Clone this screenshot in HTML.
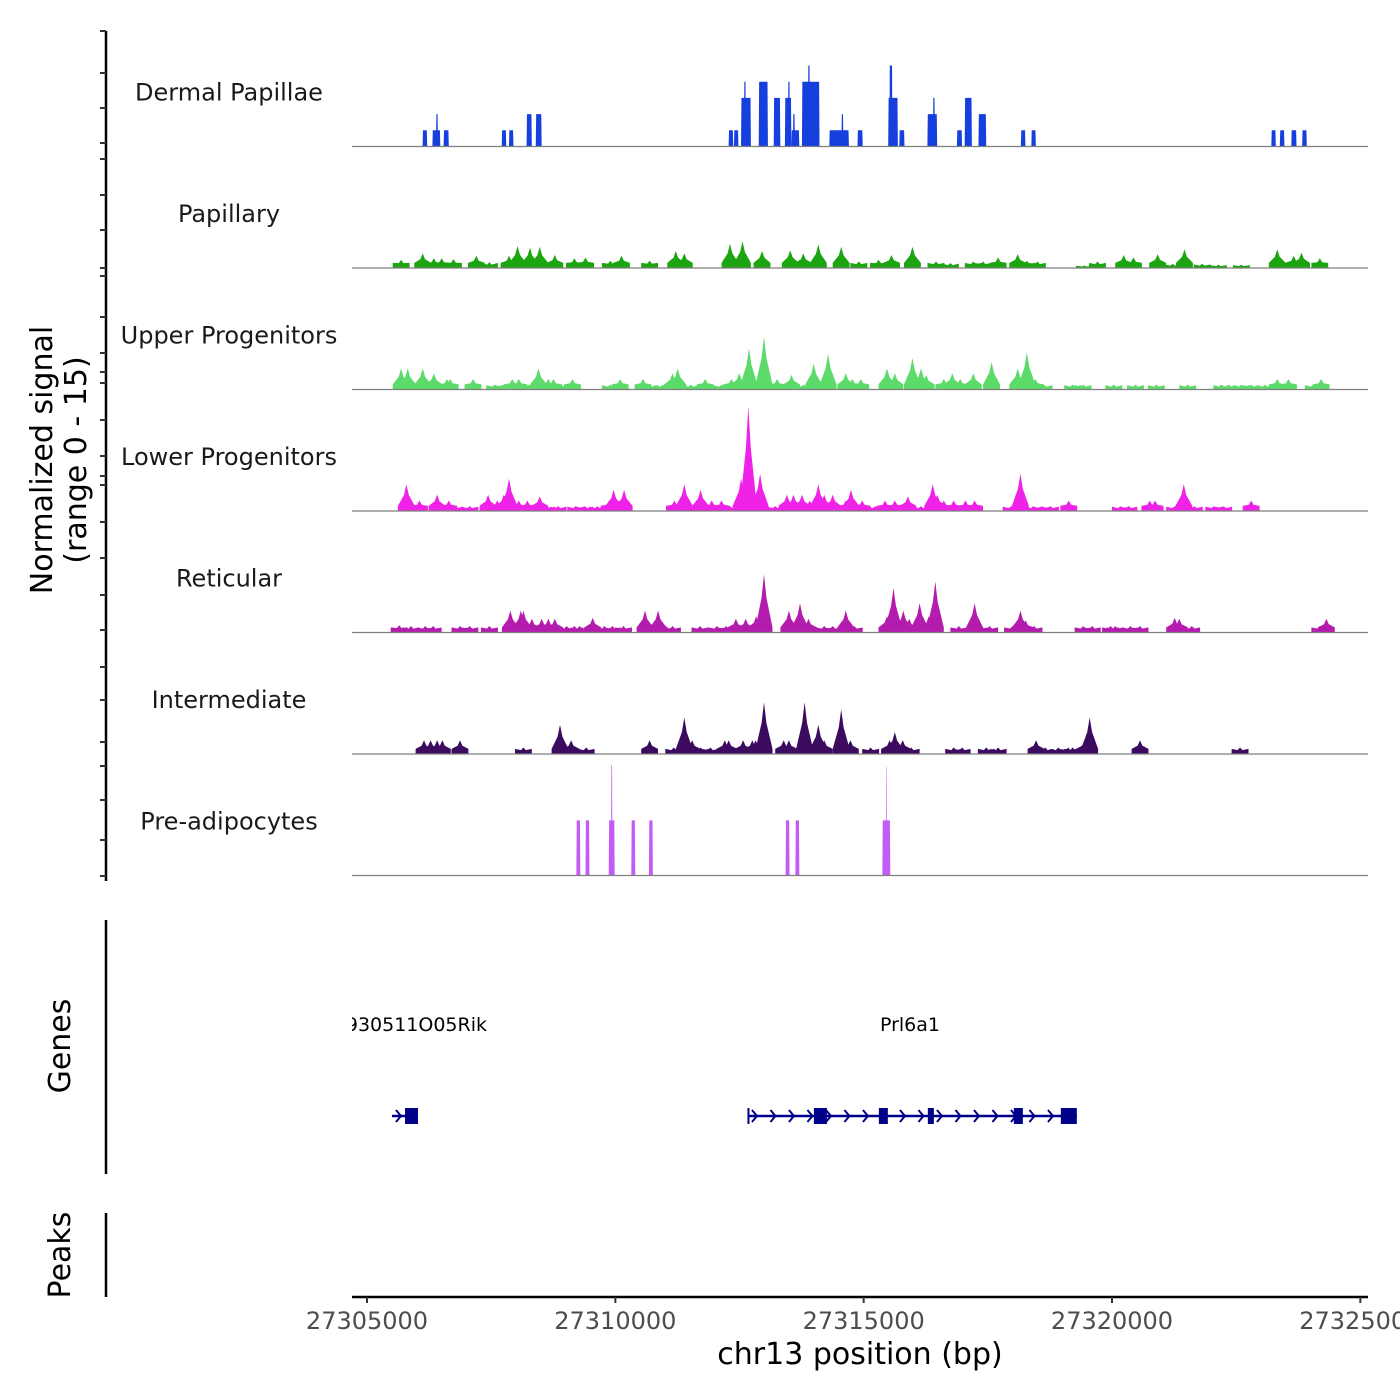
<!DOCTYPE html>
<html><head><meta charset="utf-8">
<style>
html,body{margin:0;padding:0;background:#fff;}
svg{display:block;font-family:"DejaVu Sans","Liberation Sans",sans-serif;}
</style></head>
<body>
<svg id="chart" width="1400" height="1400" viewBox="0 0 1400 1400">
<defs><clipPath id="gclip"><rect x="352" y="990" width="1030" height="60"/></clipPath></defs>
<g id="left-axes"></g>
<g id="tracks"></g>
<g id="genes"></g>
<g id="xaxis"></g>
<text transform="translate(52,460) rotate(-90)" text-anchor="middle" font-size="30" fill="#000"><tspan x="0" dy="0">Normalized signal</tspan><tspan x="0" dy="34">(range 0 - 15)</tspan></text>
<text transform="translate(70,1046) rotate(-90)" text-anchor="middle" font-size="30" fill="#000">Genes</text>
<text transform="translate(70,1255) rotate(-90)" text-anchor="middle" font-size="30" fill="#000">Peaks</text>
<text x="860" y="1364" text-anchor="middle" font-size="30" fill="#000">chr13 position (bp)</text>
</svg>
<script>
// ---- data ----
const xTicks = [27305000, 27310000, 27315000, 27320000, 27325000];
const trackNames = ["Dermal Papillae","Papillary","Upper Progenitors","Lower Progenitors","Reticular","Intermediate","Pre-adipocytes"];
const trackColors = ["#1640de","#1ca511","#5cdb6a","#ef22e7","#b41cae","#3c0a5e","#c35cf4"];
// Dermal Papillae blocks
const dpStarts = [27306119,27306317,27306389,27306542,27307713,27307858,27308213,27308398,27312281,27312388,27312531,27312589,27312887,27313189,27313414,27313475,27313545,27313575,27313757,27313877,27314308,27314552,27314876,27315494,27315518,27315717,27316283,27316394,27316877,27317034,27317311,27318165,27318376,27323208,27323379,27323610,27323828];
const dpEnds   = [27306212,27306476,27306429,27306647,27307804,27307949,27308319,27308517,27312374,27312478,27312730,27312629,27313072,27313322,27313545,27313515,27313704,27313616,27314111,27313918,27314703,27314592,27314981,27315689,27315579,27315822,27316480,27316434,27316981,27317179,27317468,27318257,27318467,27323298,27323472,27323715,27323922];
const dpHeights= [2,2,4,2,2,2,4,4,2,2,6,8,8,6,6,8,2,4,8,10,2,4,2,6,10,2,4,6,2,6,4,2,2,2,2,2,2];
// Papillary
const papPos = [27305687,27306122,27306346,27306504,27306741,27307201,27307465,27307860,27308031,27308281,27308478,27308781,27309176,27309400,27309900,27310124,27310690,27311217,27311388,27312309,27312560,27312954,27313521,27313784,27314087,27314547,27314903,27315298,27315561,27315982,27316456,27316746,27317207,27317404,27317707,27318102,27318286,27318497,27319445,27319708,27320235,27320432,27320919,27321222,27321459,27321815,27322144,27322604,27323328,27323658,27323816,27324184];
const papVals = [1.0,1.8,1.2,1.2,1.1,1.5,0.7,1.5,2.7,2.5,2.6,1.6,1.2,1.3,0.9,1.5,0.9,2.1,1.8,3.0,3.3,2.1,2.2,1.8,2.9,2.6,0.8,1.0,1.6,2.6,0.8,0.6,0.8,0.8,1.3,1.7,0.9,0.8,0.3,0.8,1.6,1.3,1.7,0.5,2.3,0.5,0.4,0.4,2.3,1.5,1.9,1.2];
// Upper Progenitors
const upPos = [27305687,27305819,27306122,27306346,27306609,27306675,27307136,27307570,27307754,27307925,27308057,27308255,27308452,27308650,27308755,27308913,27309137,27309900,27310098,27310558,27310690,27310953,27311151,27311256,27311519,27311809,27312138,27312336,27312494,27312691,27312994,27313257,27313547,27313784,27313994,27314284,27314640,27314771,27314942,27315469,27315627,27315982,27316154,27316259,27316614,27316785,27316943,27317207,27317575,27318102,27318286,27318457,27318629,27319208,27319418,27320037,27320472,27320893,27321525,27322209,27322341,27322604,27322802,27323078,27323328,27323552,27324053,27324211];
const upVals = [2.6,2.6,2.6,2.0,1.3,1.3,1.3,0.6,0.6,1.3,1.3,0.6,2.6,1.3,1.3,0.6,1.3,0.6,1.3,1.3,0.6,0.6,2.0,2.6,0.6,1.3,0.6,1.3,2.0,5.1,6.5,1.3,1.8,0.6,3.2,4.4,2.0,1.3,1.3,2.6,2.0,3.9,2.6,1.8,1.3,2.0,1.3,2.0,3.4,2.6,4.6,1.3,0.6,0.6,0.6,0.6,0.6,0.6,0.6,0.6,0.6,0.6,0.6,0.6,1.3,1.3,0.6,1.3];
// Lower Progenitors
const lpPos = [27305793,27306056,27306411,27306648,27306767,27307070,27307438,27307623,27307754,27307860,27308057,27308228,27308478,27308623,27308847,27309202,27309387,27309637,27309874,27309966,27310071,27310177,27311190,27311388,27311717,27311941,27312138,27312309,27312533,27312678,27312915,27313218,27313455,27313586,27313758,27313916,27314087,27314205,27314376,27314640,27314745,27314969,27315232,27315429,27315627,27315890,27316154,27316391,27316483,27316614,27316812,27317049,27317233,27317970,27318155,27318418,27318589,27318760,27319129,27320169,27320340,27320761,27320867,27321262,27321446,27321657,27322051,27322249,27322802];
const lpVals = [3.3,1.3,2.0,1.3,0.6,0.6,2.0,1.3,2.0,4.0,1.3,1.3,1.8,0.6,0.6,0.6,0.6,0.6,1.3,2.6,1.3,2.6,1.3,3.3,2.6,1.3,1.3,0.6,4.0,12.9,4.6,0.6,2.0,2.0,2.0,1.3,3.3,2.0,2.0,1.3,2.6,1.3,0.6,1.3,1.3,1.8,0.6,3.3,2.0,1.3,1.3,1.3,1.3,0.6,4.6,0.6,0.6,0.6,1.3,0.6,0.6,1.3,1.3,0.6,3.3,0.6,0.6,0.6,1.3];
// Reticular
const retPos = [27305648,27305885,27306174,27306332,27306872,27307070,27307465,27307886,27308097,27308149,27308320,27308518,27308650,27308781,27309018,27309176,27309281,27309545,27309782,27309940,27310163,27310598,27310861,27311019,27311151,27311704,27312046,27312230,27312428,27312625,27312836,27312994,27313494,27313718,27313889,27314205,27314376,27314640,27314811,27315469,27315601,27315798,27315917,27316127,27316312,27316443,27316917,27317233,27317338,27317536,27317997,27318155,27318260,27318431,27319418,27319603,27319971,27320064,27320366,27320564,27321262,27321354,27321485,27321604,27324184,27324316];
const retVals = [0.9,0.8,0.8,0.8,0.8,0.8,0.8,2.7,2.7,2.7,1.7,1.7,1.7,1.7,0.8,0.8,0.8,1.8,0.8,0.8,0.8,2.7,2.7,0.8,0.8,0.8,0.8,0.8,1.7,1.7,2.0,7.2,2.7,3.6,1.7,0.8,0.8,2.7,0.8,2.0,5.5,2.7,1.7,3.6,2.0,6.3,0.8,3.6,0.8,0.8,0.8,2.7,1.5,0.8,0.8,0.8,0.8,0.8,0.8,0.8,1.8,1.7,0.8,0.8,0.8,1.7];
// Intermediate
const intPos = [27306148,27306280,27306411,27306517,27306872,27308149,27308886,27309110,27309413,27310690,27311177,27311388,27311546,27311717,27311914,27312204,27312283,27312573,27312757,27312823,27312994,27313389,27313494,27313810,27314087,27314205,27314547,27314732,27315140,27315522,27315627,27315785,27315956,27316812,27316983,27317470,27317707,27318471,27318655,27318918,27319116,27319208,27319445,27319550,27320564,27322578];
const intVals = [1.7,1.7,1.7,1.7,1.7,0.8,3.6,1.7,0.8,1.7,0.8,4.5,1.7,0.8,0.8,1.7,1.7,1.7,1.7,1.7,6.4,1.7,1.7,6.4,3.6,1.7,5.5,1.7,0.8,1.7,2.7,1.7,0.8,0.8,0.8,0.8,0.8,1.7,0.8,0.8,0.8,0.8,1.7,4.5,1.7,0.8];
// Pre-adipocytes blocks
const paStarts = [27309215,27309399,27309867,27309912,27310321,27310676,27313428,27313625,27315376,27315444];
const paEnds   = [27309295,27309479,27309987,27309942,27310401,27310756,27313508,27313705,27315536,27315468];
const paHeights= [6.8,6.8,6.8,13.6,6.8,6.8,6.8,6.8,6.8,13.4];
// Genes
const geneNames = ["4930511O05Rik","Prl6a1"];
const geneStarts = [27305503,27312670];
const geneEnds = [27306027,27319292];
const exonStarts = [[27305765],[27312660,27313998,27315306,27316292,27318024,27318970]];
const exonEnds = [[27306027],[27312700,27314260,27315487,27316413,27318205,27319292]];

// ---- scales ----
const NS="http://www.w3.org/2000/svg";
const X0=352, X1=1368;
function xs(bp){ return 367 + (bp-27305000)*745/15000; }
const baselines=[146.5,268,389.5,511,632.5,754,875.5];
const TH=121.5;
function ys(t,v){ return baselines[t] - v*TH/15; }
function mk(tag,attrs,parent){const e=document.createElementNS(NS,tag);for(const k in attrs)e.setAttribute(k,attrs[k]);parent.appendChild(e);return e;}

const tracksG=document.getElementById('tracks');
trackNames.forEach((n,t)=>{
  const lab=mk('text',{x:229,y:baselines[t]-46,'text-anchor':'middle','font-size':'24',fill:'#1a1a1a'},tracksG);
  
  
  lab.textContent=n;
});
function drawBlocks(t,starts,ends,hs,name){
  const g=mk('g',{fill:trackColors[t]},tracksG);
  
  
  starts.forEach((s,i)=>{
    const a=xs(s),b=xs(ends[i]),y=ys(t,hs[i]),y0=baselines[t];
    const p=mk('polygon',{points:`${a},${y0} ${a+0.4},${y} ${b-0.4},${y} ${b},${y0}`},g);
    
    
  });
}
function drawPeaks(t,pos,vals,name){
  const g=mk('g',{fill:trackColors[t]},tracksG);
  
  
  const w=340;
  pos.forEach((c,i)=>{
    const h=vals[i];
    const pts=[[c-w/2,0],[c-w/2,Math.min(h,0.7)*0.9],[c-w/7,h*0.6],[c,h],[c+w/7,h*0.6],[c+w/2,Math.min(h,0.7)*0.9],[c+w/2,0]];
    const p=mk('polygon',{points:pts.map(q=>xs(q[0]).toFixed(1)+','+ys(t,q[1]).toFixed(1)).join(' ')},g);
    
    
  });
}
drawBlocks(0,dpStarts,dpEnds,dpHeights,'dermal-papillae-coverage');
drawPeaks(1,papPos,papVals,'papillary-coverage');
drawPeaks(2,upPos,upVals,'upper-progenitors-coverage');
drawPeaks(3,lpPos,lpVals,'lower-progenitors-coverage');
drawPeaks(4,retPos,retVals,'reticular-coverage');
drawPeaks(5,intPos,intVals,'intermediate-coverage');
drawBlocks(6,paStarts,paEnds,paHeights,'pre-adipocytes-coverage');
baselines.forEach((b,t)=>{
  const l=mk('line',{x1:X0,x2:X1,y1:b,y2:b,stroke:'#7f7f7f','stroke-width':1.2},tracksG);
  
  
});

// left axes
const la=document.getElementById('left-axes');
mk('line',{x1:106,x2:106,y1:31,y2:881,stroke:'#000','stroke-width':2.5},la);
[31,73,108,143,159,195,230,268,276,317,353,372,383,420,456,476,485,522,558,595,630,667,700,742,766,800,840,876].forEach(y=>{
  mk('line',{x1:100,x2:106,y1:y,y2:y,stroke:'#333','stroke-width':2},la);
});
mk('line',{x1:106,x2:106,y1:920,y2:1174,stroke:'#000','stroke-width':2.5},la);
mk('line',{x1:106,x2:106,y1:1213,y2:1297,stroke:'#000','stroke-width':2.5},la);

// genes
const gg=document.getElementById('genes');
const GY=1116, GC='#000088';
geneNames.forEach((n,i)=>{
  const a=xs(geneStarts[i]),b=xs(geneEnds[i]);
  const lab=mk('text',i===0?{x:487,y:1031,'text-anchor':'end','font-size':'19',fill:'#000'}:{x:910,y:1031,'text-anchor':'middle','font-size':'19',fill:'#000'},gg);
  
  
  lab.setAttribute('clip-path','url(#gclip)');
  lab.textContent=n;
  const ln=mk('line',{x1:a,x2:b,y1:GY,y2:GY,stroke:GC,'stroke-width':2.5},gg);
  
  
  for(let x=a+4;x<b-4;x+=18.5){
    mk('polyline',{points:`${x},${GY-6} ${x+5},${GY} ${x},${GY+6}`,fill:'none',stroke:GC,'stroke-width':2},gg);
  }
  exonStarts[i].forEach((s,j)=>{
    const e=mk('rect',{x:xs(s),y:GY-8,width:Math.max(2,xs(exonEnds[i][j])-xs(s)),height:16,fill:GC},gg);
    
    
  });
});

// x axis
const xa=document.getElementById('xaxis');
mk('line',{x1:X0,x2:X1,y1:1297,y2:1297,stroke:'#000','stroke-width':2.5},xa);
xTicks.forEach(v=>{
  const x=xs(v);
  mk('line',{x1:x,x2:x,y1:1297,y2:1303,stroke:'#333','stroke-width':2},xa);
  const t=mk('text',{x:x,y:1329,'text-anchor':'middle','font-size':'24',fill:'#4d4d4d'},xa);
  
  
  t.textContent=v;
});
</script>
</body></html>
